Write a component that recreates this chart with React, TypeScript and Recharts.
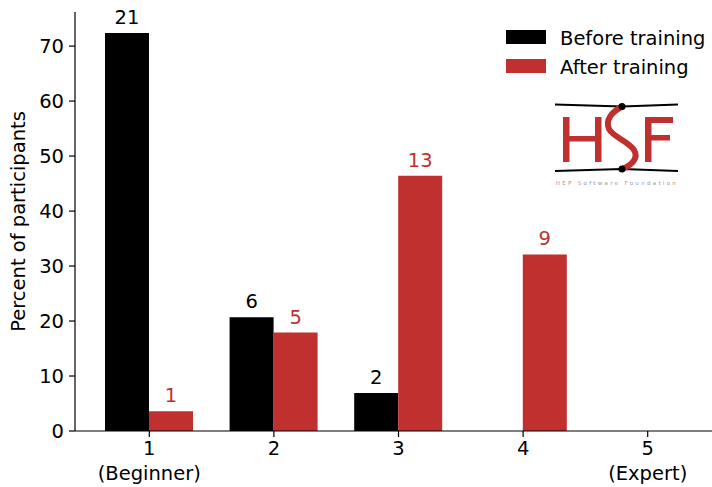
import React from 'react';
import { BarChart, Bar, XAxis, YAxis, LabelList } from 'recharts';

const levels = ['1', '2', '3', '4', '5'];
const levelNotes = ['(Beginner)', '', '', '', '(Expert)'];
const beforePercent = [72.4, 20.7, 6.9, 0, 0];
const afterPercent = [3.6, 17.9, 46.4, 32.1, 0];
const beforeCount = [21, 6, 2, 0, 0];
const afterCount = [1, 5, 13, 9, 0];
const yTicks = [0, 10, 20, 30, 40, 50, 60, 70];

const RED = '#c0302f';
const FONT = '"DejaVu Sans", sans-serif';
const FS = 19.5;

const data = levels.map((level, i) => ({
  level,
  note: levelNotes[i],
  before: beforePercent[i],
  after: afterPercent[i],
  beforeN: beforeCount[i],
  afterN: afterCount[i],
}));

const countLabel = (color: string) => (props: any) => {
  const { x, y, width, value } = props;
  if (!value) return null;
  return (
    <text x={x + width / 2} y={y - 9} textAnchor="middle" fill={color} fontSize={FS} fontFamily={FONT}>
      {value}
    </text>
  );
};

const LevelTick = (props: any) => {
  const { x, y, payload, index } = props;
  return (
    <g>
      <text x={x} y={y + 16} textAnchor="middle" fontSize={FS} fontFamily={FONT} fill="#000">
        {payload.value}
      </text>
      {levelNotes[index] ? (
        <text x={x} y={y + 41} textAnchor="middle" fontSize={FS} fontFamily={FONT} fill="#000">
          {levelNotes[index]}
        </text>
      ) : null}
    </g>
  );
};

const HsfLogo = () => (
  <svg width={712} height={487} style={{ position: 'absolute', left: 0, top: 0, pointerEvents: 'none' }}>
    <polyline points="555,104.5 622,106.5 678,104.5" fill="none" stroke="#000" strokeWidth={2} />
    <polyline points="555,171 622,169 678,171" fill="none" stroke="#000" strokeWidth={2} />
    <g fill={RED}>
      <rect x={563} y={117} width={6.5} height={45} />
      <rect x={595} y={117} width={6.5} height={45} />
      <rect x={563} y={136} width={38} height={5.5} />
      <rect x={645} y={117} width={6.5} height={45} />
      <rect x={645} y={117} width={28} height={6} />
      <rect x={645} y={135} width={25} height={5.5} />
    </g>
    <path
      d="M622,106.5 C612,112 605,120 609,129 C613,137 628,141 634,150 C639,158 632,165 622,169"
      fill="none"
      stroke={RED}
      strokeWidth={6}
    />
    <circle cx={622} cy={106.5} r={3.5} fill="#000" />
    <circle cx={622} cy={169} r={3.5} fill="#000" />
    <text x={617} y={185} textAnchor="middle" fontSize={5.5} letterSpacing={2.3} fill="#999" fontFamily={FONT}>
      HEP Software Foundation
    </text>
  </svg>
);

const LegendBox = () => (
  <svg width={712} height={487} style={{ position: 'absolute', left: 0, top: 0, pointerEvents: 'none' }}>
    <rect x={506} y={30} width={40} height={14} fill="#000" />
    <text x={560} y={45} fontSize={FS} fontFamily={FONT} fill="#000">Before training</text>
    <rect x={506} y={59} width={40} height={14} fill={RED} />
    <text x={560} y={73.5} fontSize={FS} fontFamily={FONT} fill="#000">After training</text>
  </svg>
);

export default function App() {
  return (
    <div style={{ position: 'absolute', left: 0, top: 0, width: 712, height: 487, background: '#fff' }}>
      <BarChart
        width={712}
        height={487}
        data={data}
        margin={{ top: 12, right: 0, bottom: 0, left: 0 }}
        barGap={0}
        barSize={44}
      >
        <XAxis
          dataKey="level"
          height={56}
          padding={{ left: 12, right: 2 }}
          tickSize={6}
          tickLine={{ stroke: '#000', strokeWidth: 1.2 }}
          axisLine={{ stroke: '#000', strokeWidth: 1.2 }}
          tick={<LevelTick />}
          interval={0}
        />
        <YAxis
          width={75}
          domain={[0, 76.2]}
          ticks={yTicks}
          tickSize={6}
          tickMargin={5}
          tickLine={{ stroke: '#000', strokeWidth: 1.2 }}
          axisLine={{ stroke: '#000', strokeWidth: 1.2 }}
          tick={{ fill: '#000', fontSize: FS, fontFamily: FONT }}
          label={{
            value: 'Percent of participants',
            angle: -90,
            position: 'center',
            dx: -19,
            style: { fill: '#000', fontSize: FS, fontFamily: FONT, textAnchor: 'middle' },
          }}
        />
        <Bar dataKey="before" fill="#000" isAnimationActive={false}>
          <LabelList dataKey="beforeN" content={countLabel('#000')} />
        </Bar>
        <Bar dataKey="after" fill={RED} isAnimationActive={false}>
          <LabelList dataKey="afterN" content={countLabel(RED)} />
        </Bar>
      </BarChart>
      <LegendBox />
      <HsfLogo />
    </div>
  );
}
